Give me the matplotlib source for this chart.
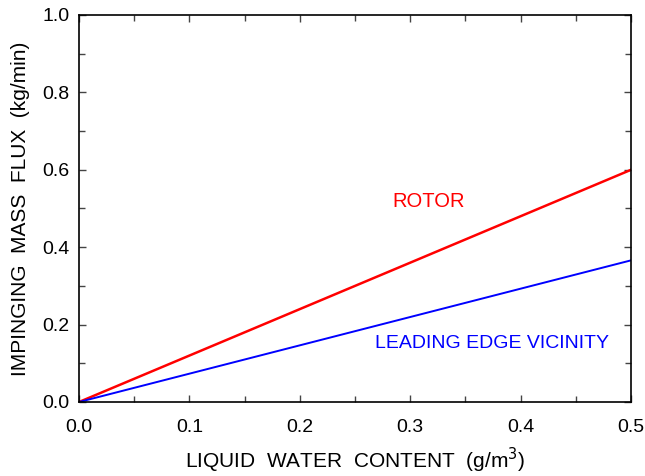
import matplotlib
matplotlib.use("Agg")
import matplotlib.pyplot as plt
from matplotlib.ticker import MultipleLocator, FormatStrFormatter

lwc = [0.0, 0.5]
rotor_flux = [0.0, 0.6]
edge_flux = [0.0, 0.366]

plt.rcParams["font.family"] = ["Liberation Sans", "DejaVu Sans"]

fig = plt.figure(figsize=(6.45, 4.76), dpi=100)
ax = fig.add_axes([79 / 645, 1 - 402 / 476, 552 / 645, 387 / 476])

ax.plot(lwc, rotor_flux, color="#ff0000", lw=1.8)
ax.plot(lwc, edge_flux, color="#0000ff", lw=1.4)

ax.text(0.317, 0.517, "ROTOR", color="#ff0000", fontsize=14.5, ha="center", va="center")
ax.text(0.374, 0.152, "LEADING EDGE VICINITY", color="#0000ff", fontsize=14, ha="center", va="center")

ax.set_xlim(0, 0.5)
ax.set_ylim(0, 1.0)
ax.xaxis.set_major_locator(MultipleLocator(0.1))
ax.xaxis.set_minor_locator(MultipleLocator(0.05))
ax.yaxis.set_major_locator(MultipleLocator(0.2))
ax.yaxis.set_minor_locator(MultipleLocator(0.1))
ax.xaxis.set_major_formatter(FormatStrFormatter("%.1f"))
ax.yaxis.set_major_formatter(FormatStrFormatter("%.1f"))

ax.tick_params(which="both", direction="in", top=True, right=True, labelsize=14, color="#444444")
ax.tick_params(which="major", length=5, width=1)
ax.tick_params(which="minor", length=4, width=1)
ax.tick_params(axis="x", which="major", pad=12.5)
ax.tick_params(axis="y", which="major", pad=7)
for s in ax.spines.values():
    s.set_linewidth(1.2)

ax.set_xlabel("LIQUID  WATER  CONTENT  (g/m$^3$)", fontsize=15, labelpad=7)
ax.set_ylabel("IMPINGING  MASS  FLUX  (kg/min)", fontsize=15, labelpad=9)

fig.savefig("out.png", dpi=100)
